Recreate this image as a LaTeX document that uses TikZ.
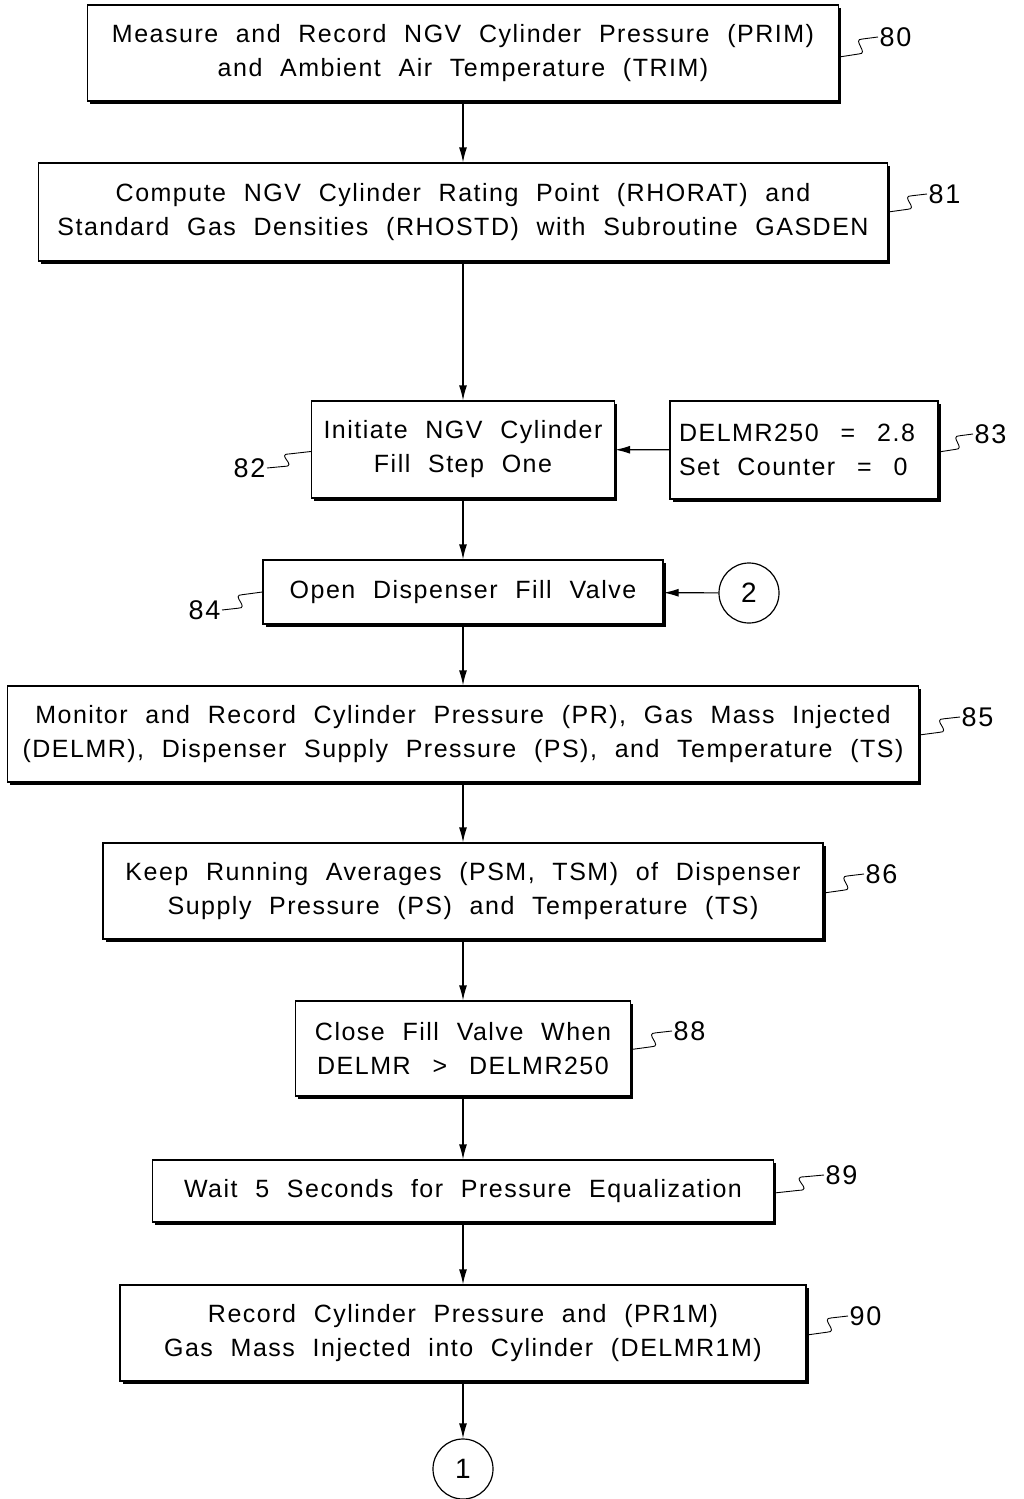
\documentclass[tikz,border=0pt]{standalone}
\usepackage{fontspec}
\setmainfont{Liberation Sans}[LetterSpace=6,WordSpace=2.1]
\usetikzlibrary{arrows.meta,shadows,calc}
\begin{document}
\begin{tikzpicture}[x=1pt,y=-1pt,
  box/.style={draw,fill=white,line width=1.2pt,align=center,inner sep=0pt,
    font=\fontsize{25}{34}\selectfont,
    drop shadow={shadow xshift=2.5pt,shadow yshift=-2.5pt,fill=black,opacity=1}},
  conn/.style={circle,draw,line width=1.2pt,minimum size=60pt,inner sep=0pt,font=\fontsize{28}{30}\selectfont},
  lab/.style={inner sep=1.5pt,font=\fontsize{27}{28}\selectfont},
  arr/.style={line width=1.2pt,-{Latex[length=15pt,width=8pt]}},
  squig/.style={line width=0.9pt,to path={
    let \p1=(\tikztostart), \p2=(\tikztotarget),
        \p3=($(\p1)!0.5!(\p2)$), \p4=($(\p1)!0.6!(\p2)$),
        \p5=($(\p1)!0.15!(\p2)$), \p6=($(\p1)!0.9!(\p2)$),
        \p7=($(\p1)!0.8!(\p2)$), \p8=($(\p1)!0.3!(\p2)$) in
    -- (\x3,\y5) .. controls (\x7,\y5) and (\x8,\y6) .. (\x4,\y6) -- (\tikztotarget)}}
]
\useasboundingbox (0,0) rectangle (1024,1499);

\node[box,minimum width=751pt,minimum height=96pt] (b80) at (463,53)
  {Measure and Record NGV Cylinder Pressure (PRIM)\\and Ambient Air Temperature (TRIM)};
\node[box,minimum width=849pt,minimum height=98pt] (b81) at (463,212)
  {Compute NGV Cylinder Rating Point (RHORAT) and\\Standard Gas Densities (RHOSTD) with Subroutine GASDEN};
\node[box,minimum width=303pt,minimum height=97pt] (b82) at (463,449.5)
  {Initiate NGV Cylinder\\Fill Step One};
\node[box,align=left,minimum width=268pt,minimum height=98pt] (b83) at (804,450)
  {DELMR250 \,=\, 2.8\hspace*{14pt}\\Set Counter \,=\, 0\hspace*{14pt}};
\node[box,minimum width=400pt,minimum height=64pt] (b84) at (463,592)
  {Open Dispenser Fill Valve};
\node[conn] (c2) at (749,593) {2};
\node[box,minimum width=911pt,minimum height=96pt] (b85) at (463,734)
  {Monitor and Record Cylinder Pressure (PR), Gas Mass Injected\\(DELMR), Dispenser Supply Pressure (PS), and Temperature (TS)};
\node[box,minimum width=720pt,minimum height=96pt] (b86) at (463,891)
  {Keep Running Averages (PSM, TSM) of Dispenser\\Supply Pressure (PS) and Temperature (TS)};
\node[box,minimum width=335pt,minimum height=95pt] (b88) at (463,1048.5)
  {Close Fill Valve When\\DELMR \,>\, DELMR250};
\node[box,minimum width=621pt,minimum height=62pt] (b89) at (463,1191)
  {Wait 5 Seconds for Pressure Equalization};
\node[box,minimum width=686pt,minimum height=96pt] (b90) at (463,1333)
  {Record Cylinder Pressure and (PR1M)\\Gas Mass Injected into Cylinder (DELMR1M)};
\node[conn] (c1) at (463,1469) {1};

\draw[arr] (b80) -- (b81);
\draw[arr] (b81) -- (b82);
\draw[arr] (b82) -- (b84);
\draw[arr] (b84) -- (b85);
\draw[arr] (b85) -- (b86);
\draw[arr] (b86) -- (b88);
\draw[arr] (b88) -- (b89);
\draw[arr] (b89) -- (b90);
\draw[arr] (b90) -- (c1);
\draw[arr] (b83) -- (b82);
\draw[arr] (c2) -- (b84);

\node[lab,anchor=west] (l80) at (878,37) {80};
\node[lab,anchor=west] (l81) at (927,194) {81};
\node[lab,anchor=east] (l82) at (267,468) {82};
\node[lab,anchor=west] (l83) at (973,434) {83};
\node[lab,anchor=east] (l84) at (222,610) {84};
\node[lab,anchor=west] (l85) at (960,717) {85};
\node[lab,anchor=west] (l86) at (864,874) {86};
\node[lab,anchor=west] (l88) at (672,1031) {88};
\node[lab,anchor=west] (l89) at (824,1175) {89};
\node[lab,anchor=west] (l90) at (848,1316) {90};

\draw[squig] ($(b80.east)+(0,4)$) to (l80.west);
\draw[squig] ($(b81.east)+(0,0)$) to (l81.west);
\draw[squig] ($(b82.west)+(0,2)$) to (l82.east);
\draw[squig] ($(b83.east)+(0,2)$) to (l83.west);
\draw[squig] ($(b84.west)+(0,0)$) to (l84.east);
\draw[squig] ($(b85.east)+(0,1)$) to (l85.west);
\draw[squig] ($(b86.east)+(0,2)$) to (l86.west);
\draw[squig] ($(b88.east)+(0,1)$) to (l88.west);
\draw[squig] ($(b89.east)+(0,2)$) to (l89.west);
\draw[squig] ($(b90.east)+(0,2)$) to (l90.west);
\end{tikzpicture}
\end{document}
